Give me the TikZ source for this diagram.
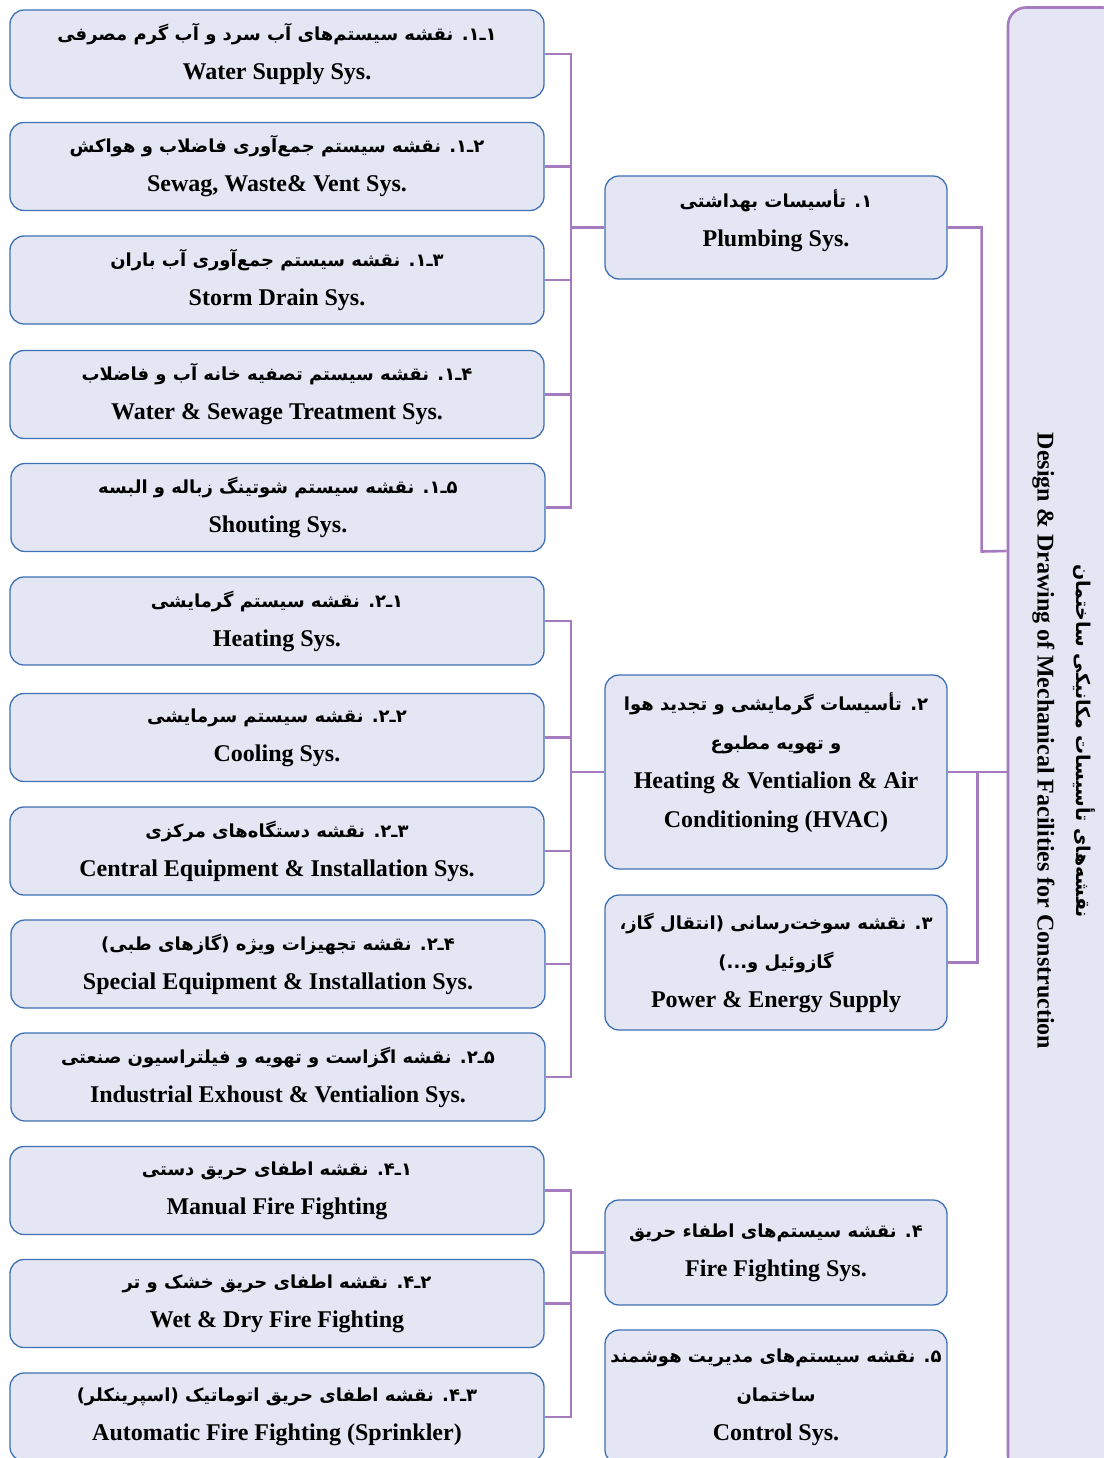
\documentclass[tikz,border=0pt]{standalone}
\usepackage{fontspec}
\setmainfont{Liberation Serif}
\newfontfamily\fafont[Script=Arabic]{DejaVu Sans}
\TeXXeTstate=1
\definecolor{boxfill}{RGB}{228,230,244}
\definecolor{boxline}{RGB}{62,112,180}
\definecolor{linkpurple}{RGB}{166,122,190}
\newcommand{\rl}[1]{{\fafont\bfseries\fontsize{18}{39}\selectfont\beginR #1\endR}}
\newcommand{\rlthin}[1]{{\fafont\fontsize{19}{39}\selectfont\beginR #1\endR}}

\begin{document}
\begin{tikzpicture}[x=1pt, y=-1pt,
    every node/.style={font=\fontsize{24}{39}\selectfont\bfseries, align=center},
    subbox/.style={draw=boxline, line width=1.3pt, rounded corners=14pt, fill=boxfill, minimum width=534pt, minimum height=88pt},
    mainbox/.style={draw=boxline, line width=1.3pt, rounded corners=14pt, fill=boxfill, minimum width=342pt, inner xsep=1pt},
    rootbox/.style={draw=linkpurple, line width=2.6pt, rounded corners=18pt, fill=boxfill, rotate=-90, minimum width=1467pt, minimum height=112pt},
    link/.style={draw=linkpurple, line width=2.6pt}]
    \useasboundingbox (0,0) rectangle (1103,1458);

    % main title, runs down the right side
    \node[rootbox] (root) at (1064,741) {\rlthin{نقشه^^^^200cهای تأسیسات مکانیکی ساختمان}\\ Design \& Drawing of Mechanical Facilities for Construction};

    % middle column
    \node[mainbox, minimum height=103pt, text depth=19pt] (m1) at (776,227.5) {\rl{۱. تأسیسات بهداشتی}\\ Plumbing Sys.};
    \node[mainbox, minimum height=194pt, text depth=23pt] (m2) at (776,772) {\rl{۲. تأسیسات گرمایشی و تجدید هوا}\\ \rl{و تهویه مطبوع}\\ Heating \& Ventialion \& Air\\ Conditioning (HVAC)};
    \node[mainbox, minimum height=135pt] (m3) at (776,962.5) {\rl{۳. نقشه سوخت^^^^200cرسانی (انتقال گاز،}\\ \rl{گازوئیل و...)}\\ Power \& Energy Supply};
    \node[mainbox, minimum height=105pt] (m4) at (776,1252.5) {\rl{۴. نقشه سیستم^^^^200cهای اطفاء حریق}\\ Fire Fighting Sys.};
    \node[mainbox, minimum height=134pt] (m5) at (776,1397) {\rl{۵. نقشه سیستم^^^^200cهای مدیریت هوشمند}\\ \rl{ساختمان}\\ Control Sys.};

    % left column, plumbing
    \node[subbox] (s11) at (277,54) {\rl{۱ـ۱. نقشه سیستم^^^^200cهای آب سرد و آب گرم مصرفی}\\ Water Supply Sys.};
    \node[subbox] (s12) at (277,166.5) {\rl{۲ـ۱. نقشه سیستم جمع^^^^200cآوری فاضلاب و هواکش}\\ Sewag, Waste\& Vent Sys.};
    \node[subbox] (s13) at (277,280) {\rl{۳ـ۱. نقشه سیستم جمع^^^^200cآوری آب باران}\\ Storm Drain Sys.};
    \node[subbox] (s14) at (277,394.5) {\rl{۴ـ۱. نقشه سیستم تصفیه خانه آب و فاضلاب}\\ Water \& Sewage Treatment Sys.};
    \node[subbox] (s15) at (278,507.5) {\rl{۵ـ۱. نقشه سیستم شوتینگ زباله و البسه}\\ Shouting Sys.};

    % left column, HVAC
    \node[subbox] (s21) at (277,621) {\rl{۱ـ۲. نقشه سیستم گرمایشی}\\ Heating Sys.};
    \node[subbox] (s22) at (277,737.5) {\rl{۲ـ۲. نقشه سیستم سرمایشی}\\ Cooling Sys.};
    \node[subbox] (s23) at (277,851) {\rl{۳ـ۲. نقشه دستگاه^^^^200cهای مرکزی}\\ Central Equipment \& Installation Sys.};
    \node[subbox] (s24) at (278,964) {\rl{۴ـ۲. نقشه تجهیزات ویژه (گازهای طبی)}\\ Special Equipment \& Installation Sys.};
    \node[subbox] (s25) at (278,1077) {\rl{۵ـ۲. نقشه اگزاست و تهویه و فیلتراسیون صنعتی}\\ Industrial Exhoust \& Ventialion Sys.};

    % left column, fire fighting
    \node[subbox] (s41) at (277,1190.5) {\rl{۱ـ۴. نقشه اطفای حریق دستی}\\ Manual Fire Fighting};
    \node[subbox] (s42) at (277,1303.5) {\rl{۲ـ۴. نقشه اطفای حریق خشک و تر}\\ Wet \& Dry Fire Fighting};
    \node[subbox] (s43) at (277,1417) {\rl{۳ـ۴. نقشه اطفای حریق اتوماتیک (اسپرینکلر)}\\ Automatic Fire Fighting (Sprinkler)};

    \coordinate (bus) at (571,0);

    \draw[link] (s11.east) -| (bus |- s15.east) -- (s15.east);
    \draw[link] (s12.east) -- (bus |- s12.east);
    \draw[link] (s13.east) -- (bus |- s13.east);
    \draw[link] (s14.east) -- (bus |- s14.east);
    \draw[link] (m1.west) -- (bus |- m1.west);

    \draw[link] (s21.east) -| (bus |- s25.east) -- (s25.east);
    \draw[link] (s22.east) -- (bus |- s22.east);
    \draw[link] (s23.east) -- (bus |- s23.east);
    \draw[link] (s24.east) -- (bus |- s24.east);
    \draw[link] (m2.west) -- (bus |- m2.west);

    \draw[link] (s41.east) -| (bus |- s43.east) -- (s43.east);
    \draw[link] (s42.east) -- (bus |- s42.east);
    \draw[link] (m4.west) -- (bus |- m4.west);

    \draw[link] (m1.east) -- ++(34,0) -- ++(0,324) -- (root.south |- 0,551);
    \draw[link] (m2.east) -- (root.south |- m2.east);
    \draw[link] (m3.east) -- ++(30,0) |- (m2.east);
\end{tikzpicture}
\end{document}
